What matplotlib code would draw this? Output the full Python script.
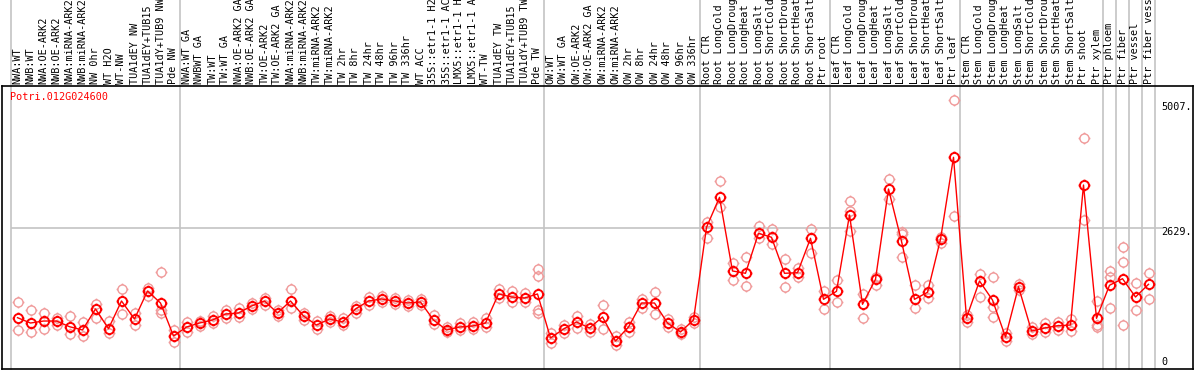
import matplotlib
matplotlib.use("Agg")
import matplotlib.pyplot as plt
from matplotlib.path import Path
from matplotlib.transforms import blended_transform_factory
import numpy as np

gene_id = "Potri.012G024600"

labels = [
    "NWA:WT", "NWB:WT", "NWA:OE-ARK2", "NWB:OE-ARK2", "NWA:miRNA-ARK2", "NWB:miRNA-ARK2",
    "NW 0hr", "WT H2O", "WT-NW", "TUA1dEY NW", "TUA1dEY+TUB15", "TUA1dY+TUB9 NW", "Pde NW",
    "NWA:WT GA", "NWBWT GA", "TW:WT", "TW:WT GA", "NWA:OE-ARK2 GA", "NWB:OE-ARK2 GA",
    "TW:OE-ARK2", "TW:OE-ARK2 GA", "NWA:miRNA-ARK2", "NWB:miRNA-ARK2", "TW:miRNA-ARK2",
    "TW:miRNA-ARK2", "TW 2hr", "TW 8hr", "TW 24hr", "TW 48hr", "TW 96hr", "TW 336hr",
    "WT ACC", "35S::etr1-1 H2", "35S::etr1-1 AC", "LMX5::etr1-1 H", "LMX5::etr1-1 A",
    "WT-TW", "TUA1dEY TW", "TUA1dEY+TUB15", "TUA1dY+TUB9 TW", "Pde TW",
    "OW:WT", "OW:WT GA", "OW:OE-ARK2", "OW:OE-ARK2 GA", "OW:miRNA-ARK2", "OW:miRNA-ARK2",
    "OW 2hr", "OW 8hr", "OW 24hr", "OW 48hr", "OW 96hr", "OW 336hr",
    "Root CTR", "Root LongCold", "Root LongDroug", "Root LongHeat", "Root LongSalt",
    "Root ShortCold", "Root ShortDrou", "Root ShortHeat", "Root ShortSalt", "Ptr root",
    "Leaf CTR", "Leaf LongCold", "Leaf LongDroug", "Leaf LongHeat", "Leaf LongSalt",
    "Leaf ShortCold", "Leaf ShortDrou", "Leaf ShortHeat", "Leaf ShortSalt", "Ptr leaf",
    "Stem CTR", "Stem LongCold", "Stem LongDroug", "Stem LongHeat", "Stem LongSalt",
    "Stem ShortCold", "Stem ShortDrou", "Stem ShortHeat", "Stem ShortSalt", "Ptr shoot",
    "Ptr xylem", "Ptr phloem", "Ptr fiber", "Ptr vessel", "Ptr fiber vess",
]

means = [
    969, 870, 907, 907, 802, 741, 1130, 765, 1278, 944, 1463, 1241, 630,
    796, 870, 926, 1037, 1056, 1185, 1278, 1056, 1278, 1000, 833, 944, 889, 1130,
    1278, 1315, 1278, 1241, 1259, 926, 741, 796, 815, 870, 1408, 1352, 1333, 1408,
    593, 759, 889, 778, 982, 537, 796, 1241, 1241, 870, 704, 926,
    2643, 3198, 1834, 1791, 2532, 2458, 1791, 1802, 2439, 1309,
    1458, 2871, 1217, 1680, 3352, 2384, 1309, 1439, 2421, 3939,
    969, 1648, 1296, 611, 1543, 722, 778, 820, 833, 3426, 957,
    1569, 1691, 1352, 1587,
]

replicates = [
    [1259, 741], [1111, 704], [1056, 759], [963, 833], [1000, 667], [889, 630],
    [1222, 963], [907, 685], [1500, 1037], [1056, 833], [1519, 1370], [1815, 1111, 1056],
    [741, 519],
    [889, 704], [907, 815], [1000, 870], [1111, 963], [1148, 982], [1241, 1130],
    [1333, 1204], [1111, 1000], [1500, 1148], [1056, 926], [907, 759], [1000, 889],
    [963, 833], [1185, 1056], [1352, 1204], [1370, 1259], [1333, 1222], [1296, 1185],
    [1315, 1204], [1019, 852], [796, 704], [870, 741], [889, 759], [963, 796],
    [1500, 1333], [1463, 1259], [1426, 1259], [1871, 1741, 1111, 1056],
    [685, 500], [833, 685], [1000, 778], [852, 704], [1204, 759], [630, 463],
    [889, 704], [1315, 1148], [1445, 1037], [944, 796], [759, 667], [982, 870],
    [2747, 2445], [3495, 3024], [1982, 1667], [2098, 1556], [2667, 2445], [2611, 2334],
    [2056, 1537], [1889, 1722], [2611, 2167], [1463, 1130],
    [1667, 1265], [3130, 2945, 2574], [1408, 963], [1728, 1580], [3537, 3167],
    [2561, 2513, 2087], [1574, 1143], [1574, 1333], [2469, 2347], [5007, 2852],
    [1019, 889], [1778, 1358], [1717, 1172, 976], [685, 537], [1593, 1482], [796, 667],
    [870, 704], [889, 741], [939, 728], [4296, 2778], [1283, 833, 791],
    [1833, 1717, 1143], [2272, 1995, 828], [1606, 1111], [1791, 1309],
]

group_bounds = [-0.5, 12.5, 40.5, 52.5, 62.5, 72.5, 83.5, 84.5, 85.5, 86.5, 87.5]
grid_value = 2629
max_value = 5007

# ---- figure / axes geometry (pixel based) ----
W, H = 1194, 370
fig = plt.figure(figsize=(W / 100, H / 100), dpi=100)
ax_left, ax_right, ax_top, ax_bottom = 2, 1193, 86, 369
ax = fig.add_axes([ax_left / W, (H - ax_bottom) / H,
                   (ax_right - ax_left) / W, (ax_bottom - ax_top) / H])

px_per_col = 13.0
x0_px = 17.5
ax.set_xlim((ax_left - x0_px) / px_per_col, (ax_right - x0_px) / px_per_col)
scale = 18.52
ax.set_ylim((370 - ax_bottom) * scale, (370 - ax_top) * scale)

ax.set_xticks([])
ax.set_yticks([])
for s in ax.spines.values():
    s.set_color("black")
    s.set_linewidth(1.2)

grey = "#c4c4c4"
ext = 1 + ax_top / (ax_bottom - ax_top)
for b in group_bounds:
    ax.axvline(b, ymin=0, ymax=ext, color=grey, lw=1.2, clip_on=False, zorder=1)
ax.hlines(grid_value, -0.5, 88.1, color=grey, lw=1.2, zorder=1)

# custom marker: circle with small stubs
circ = Path.unit_circle()
stubs = []
for dx, dy in [(0, 1), (0, -1), (1, 0), (-1, 0)]:
    stubs.append(Path([(dx * 1.0, dy * 1.0), (dx * 1.3, dy * 1.3)], [Path.MOVETO, Path.LINETO]))
marker = Path.make_compound_path(circ, *stubs)

xs = np.arange(len(means))
for i, reps in enumerate(replicates):
    ax.plot([i] * len(reps), reps, linestyle="none", marker=marker, markersize=8.5,
            markerfacecolor="none", markeredgecolor="#f09a9a", markeredgewidth=1.0, zorder=2)

ax.plot(xs, means, color="red", lw=1.0, zorder=3)
ax.plot(xs, means, linestyle="none", marker=marker, markersize=8.5,
        markerfacecolor="none", markeredgecolor="red", markeredgewidth=1.4, zorder=4)

mono = "DejaVu Sans Mono"
fs = 7.3
trans = blended_transform_factory(ax.transData, ax.transAxes)
for i, lab in enumerate(labels):
    ax.text(i, 1 + 2 / (ax_bottom - ax_top), lab, rotation=90, ha="center", va="bottom",
            transform=trans, fontsize=fs, family=mono, color="black", clip_on=False)

ax.text((10 - ax_left) / (ax_right - ax_left), (ax_bottom - 97) / (ax_bottom - ax_top),
        gene_id, transform=ax.transAxes, ha="left", va="center",
        fontsize=fs, family=mono, color="red")

tx = (1192 - ax_left) / (ax_right - ax_left)
trans2 = blended_transform_factory(ax.transAxes, ax.transData)
ax.text(tx, (370 - 107) * scale, f"{max_value}.", transform=trans2, ha="right", va="center",
        fontsize=fs, family=mono, color="black")
ax.text(tx, (370 - 232) * scale, f"{grid_value}.", transform=trans2, ha="right", va="center",
        fontsize=fs, family=mono, color="black")
ax.text((1168 - ax_left) / (ax_right - ax_left), (370 - 362) * scale, "0", transform=trans2,
        ha="right", va="center", fontsize=fs, family=mono, color="black")

fig.savefig("out.png", dpi=100)
